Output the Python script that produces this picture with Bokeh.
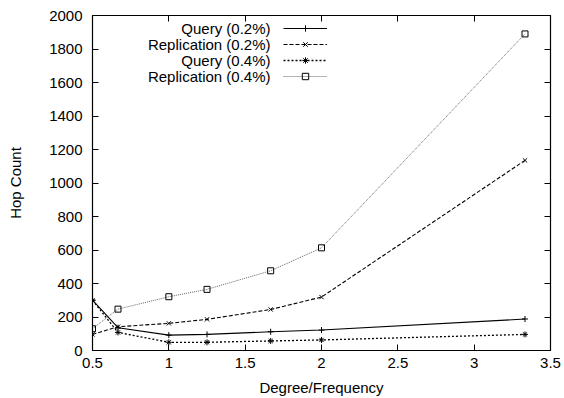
from bokeh.plotting import figure
from bokeh.models import LinearAxis, FixedTicker, Legend, LegendItem, Label, Range1d
from bokeh.embed import file_html
from bokeh.resources import INLINE

# ---- data ----
x = [0.5, 0.667, 1.0, 1.25, 1.667, 2.0, 3.333]
query_02 = [301, 136, 92, 96, 112, 122, 188]
repl_02 = [96, 142, 162, 186, 245, 319, 1135]
query_04 = [300, 108, 49, 49, 57, 63, 96]
repl_04 = [130, 247, 321, 365, 476, 613, 1890]
series_names = ["Query (0.2%)", "Replication (0.2%)", "Query (0.4%)", "Replication (0.4%)"]
x_ticks = [0.5, 1.0, 1.5, 2.0, 2.5, 3.0, 3.5]
x_tick_labels = ["0.5", "1", "1.5", "2", "2.5", "3", "3.5"]
y_ticks = [0, 200, 400, 600, 800, 1000, 1200, 1400, 1600, 1800, 2000]
x_title = "Degree/Frequency"
y_title = "Hop Count"

FONT = "Liberation Sans"
FS = "15px"

p = figure(width=564, height=398, output_backend="svg", toolbar_location=None,
           x_range=Range1d(0.5, 3.5), y_range=Range1d(0, 2000),
           min_border_left=92, min_border_right=14, min_border_top=15, min_border_bottom=48)
p.xgrid.visible = False
p.ygrid.visible = False
p.outline_line_color = "black"
p.outline_line_width = 1.2
p.background_fill_color = "white"
p.border_fill_color = "white"

def style_axis(ax, ticks, labels=True):
    ax.ticker = FixedTicker(ticks=ticks)
    ax.major_tick_in = 6
    ax.major_tick_out = 0
    ax.minor_tick_in = 0
    ax.minor_tick_out = 0
    ax.axis_line_color = "black"
    ax.major_tick_line_color = "black"
    ax.major_label_text_font = FONT
    ax.major_label_text_font_size = FS
    ax.major_label_text_color = "black"
    ax.axis_label_text_font = FONT
    ax.axis_label_text_font_size = FS
    ax.axis_label_text_font_style = "normal"
    ax.axis_label_text_color = "black"
    if not labels:
        ax.major_label_overrides = {t: "" for t in ticks}
        ax.major_label_standoff = 0

xa = p.xaxis[0]
style_axis(xa, x_ticks)
xa.major_label_overrides = {t: l for t, l in zip(x_ticks, x_tick_labels)}
xa.major_label_standoff = 7
xa.major_label_text_line_height = 1.0
xa.axis_label = x_title
xa.axis_label_text_line_height = 1.0
xa.axis_label_standoff = 8

ya = p.yaxis[0]
style_axis(ya, y_ticks)
ya.major_label_standoff = 10
ya.axis_label = y_title
ya.axis_label_standoff = 22

top = LinearAxis()
style_axis(top, x_ticks, labels=False)
p.add_layout(top, "above")
right = LinearAxis()
style_axis(right, y_ticks, labels=False)
p.add_layout(right, "right")

# series
styles = [
    dict(data=query_02, dash="solid", marker="cross", color="black", lw=1.1),
    dict(data=repl_02, dash="4 2", marker="x", color="black", lw=1.1),
    dict(data=query_04, dash="2 2", marker="asterisk", color="black", lw=1.3),
    dict(data=repl_04, dash="1 1", marker="square", color="#666666", lw=1.0),
]
items = []
for name, st in zip(series_names, styles):
    r1 = p.line(x, st["data"], line_color=st["color"], line_dash=st["dash"], line_width=st["lw"])
    r2 = p.scatter(x, st["data"], marker=st["marker"], size=6, line_color="black",
                   fill_color=None, line_width=1)
    items.append(LegendItem(label="", renderers=[r1, r2]))

legend = Legend(items=items, location=(191, 266), orientation="vertical",
                glyph_width=44, glyph_height=16, label_width=0, label_standoff=0,
                label_height=16, spacing=0, padding=0, margin=0,
                border_line_color=None, background_fill_alpha=0)
p.add_layout(legend, "center")

for i, name in enumerate(series_names):
    lab = Label(x=178, y=322 - 16 * i, x_units="screen", y_units="screen",
                text=name, text_align="right", text_baseline="middle",
                text_font=FONT, text_font_size=FS, text_color="black")
    p.add_layout(lab)

open("out.html", "w").write(file_html(p, INLINE))
